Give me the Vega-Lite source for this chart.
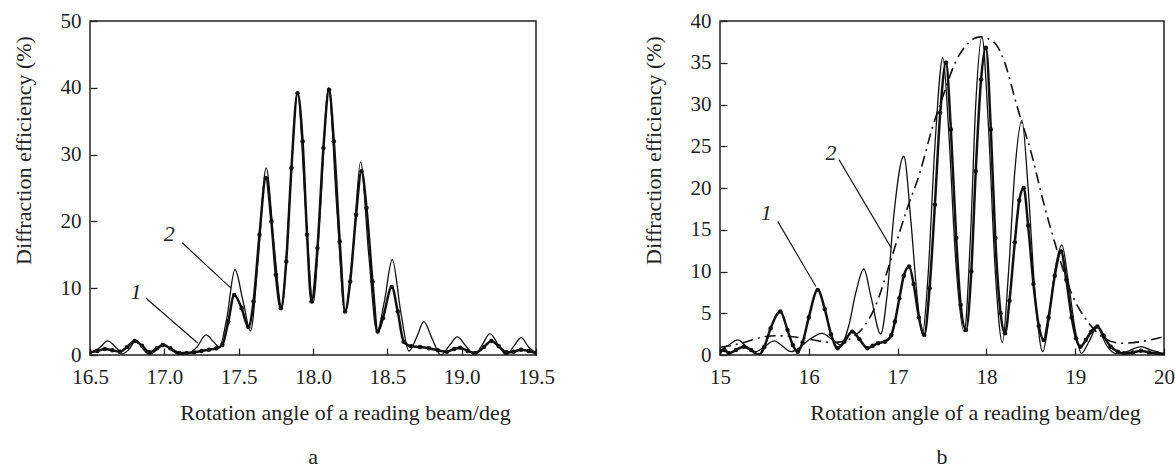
{
  "$schema": "https://vega.github.io/schema/vega-lite/v6.json",
  "background": "white",
  "padding": {"left": 11, "top": 9, "right": 0, "bottom": 0},
  "bounds": "flush",
  "spacing": 184,
  "config": {
    "view": {"stroke": "#222", "strokeWidth": 1.5},
    "font": "Liberation Serif",
    "axis": {
      "labelFont": "Liberation Serif", "titleFont": "Liberation Serif",
      "labelFontSize": 21, "titleFontSize": 22, "titleFontWeight": "normal",
      "labelColor": "#222", "titleColor": "#222", "tickColor": "#222",
      "tickSize": -7, "tickWidth": 1.3, "domain": false, "grid": false,
      "labelFlush": false, "labelOverlap": false
    },
    "axisX": {"labelPadding": 18},
    "axisY": {"labelPadding": 16},
    "title": {"font": "Liberation Serif", "fontSize": 22, "fontWeight": "normal", "color": "#222"}
  },
  "datasets": {
    "a2": [
      {"x":16.50,"y":0.3},{"x":16.56,"y":1.0},{"x":16.62,"y":2.1},{"x":16.68,"y":1.0},{"x":16.72,"y":0.2},
      {"x":16.76,"y":0.8},{"x":16.81,"y":2.2},{"x":16.86,"y":0.8},{"x":16.90,"y":0.1},{"x":16.95,"y":0.8},
      {"x":17.00,"y":1.6},{"x":17.05,"y":0.7},{"x":17.10,"y":0.1},{"x":17.16,"y":0.2},{"x":17.22,"y":1.2},
      {"x":17.28,"y":3.0},{"x":17.33,"y":2.0},{"x":17.37,"y":1.2},{"x":17.42,"y":5.5},{"x":17.475,"y":12.8},
      {"x":17.53,"y":8.0},{"x":17.58,"y":3.6},{"x":17.63,"y":14.0},{"x":17.685,"y":28.0},{"x":17.74,"y":16.0},
      {"x":17.79,"y":7.0},{"x":17.84,"y":22.0},{"x":17.896,"y":39.4},{"x":17.95,"y":22.0},{"x":18.00,"y":7.8},
      {"x":18.05,"y":22.0},{"x":18.104,"y":40.0},{"x":18.16,"y":22.0},{"x":18.215,"y":6.5},{"x":18.27,"y":16.0},
      {"x":18.32,"y":28.9},{"x":18.375,"y":15.0},{"x":18.43,"y":3.5},{"x":18.48,"y":8.0},{"x":18.533,"y":14.3},
      {"x":18.59,"y":6.5},{"x":18.645,"y":0.6},{"x":18.70,"y":2.8},{"x":18.745,"y":5.0},{"x":18.80,"y":2.5},
      {"x":18.86,"y":0.0},{"x":18.92,"y":1.5},{"x":18.97,"y":2.7},{"x":19.03,"y":1.3},{"x":19.085,"y":0.0},
      {"x":19.14,"y":1.6},{"x":19.19,"y":3.2},{"x":19.245,"y":1.6},{"x":19.30,"y":0.0},{"x":19.35,"y":1.3},
      {"x":19.40,"y":2.6},{"x":19.45,"y":1.2},{"x":19.50,"y":0.3}
    ],
    "a1": [
      {"x":16.50,"y":0.4},{"x":16.55,"y":0.6},{"x":16.60,"y":0.9},{"x":16.65,"y":0.7},{"x":16.70,"y":0.5},
      {"x":16.75,"y":1.2},{"x":16.80,"y":2.1},{"x":16.85,"y":1.4},{"x":16.90,"y":0.4},{"x":16.95,"y":1.0},
      {"x":16.99,"y":1.5},{"x":17.04,"y":1.0},{"x":17.10,"y":0.3},{"x":17.15,"y":0.3},{"x":17.20,"y":0.4},
      {"x":17.25,"y":0.6},{"x":17.30,"y":0.8},{"x":17.35,"y":1.0},{"x":17.39,"y":1.5},{"x":17.43,"y":5.0},
      {"x":17.47,"y":9.0},{"x":17.52,"y":7.0},{"x":17.565,"y":4.2},{"x":17.60,"y":8.0},{"x":17.64,"y":18.0},
      {"x":17.683,"y":26.5},{"x":17.72,"y":20.0},{"x":17.75,"y":12.0},{"x":17.784,"y":7.0},{"x":17.82,"y":14.0},
      {"x":17.855,"y":28.0},{"x":17.896,"y":39.2},{"x":17.93,"y":32.0},{"x":17.96,"y":18.0},{"x":17.99,"y":8.0},
      {"x":18.03,"y":16.0},{"x":18.07,"y":31.0},{"x":18.108,"y":39.7},{"x":18.14,"y":32.0},{"x":18.18,"y":17.0},
      {"x":18.216,"y":6.5},{"x":18.25,"y":11.0},{"x":18.29,"y":21.0},{"x":18.326,"y":27.5},{"x":18.36,"y":22.0},
      {"x":18.40,"y":11.0},{"x":18.435,"y":3.5},{"x":18.47,"y":5.5},{"x":18.53,"y":10.2},{"x":18.57,"y":6.5},
      {"x":18.61,"y":2.0},{"x":18.66,"y":1.3},{"x":18.72,"y":1.2},{"x":18.78,"y":1.0},{"x":18.84,"y":0.7},
      {"x":18.90,"y":0.5},{"x":18.95,"y":0.9},{"x":18.99,"y":1.1},{"x":19.04,"y":0.6},{"x":19.09,"y":0.3},
      {"x":19.15,"y":1.2},{"x":19.20,"y":2.1},{"x":19.25,"y":1.3},{"x":19.30,"y":0.4},{"x":19.35,"y":0.5},
      {"x":19.40,"y":0.8},{"x":19.45,"y":0.6},{"x":19.50,"y":0.3}
    ],
    "aLabels": [
      {"t":"2","x":17.033,"y":18.1},
      {"t":"1","x":16.81,"y":9.5}
    ],
    "aLeaders": [
      {"x":17.12,"y":16.8,"x2":17.448,"y2":10.0},
      {"x":16.877,"y":8.5,"x2":17.224,"y2":1.8}
    ],
    "b2": [
      {"x":15.00,"y":0.5},{"x":15.10,"y":1.2},{"x":15.20,"y":1.8},{"x":15.30,"y":1.0},{"x":15.40,"y":0.4},
      {"x":15.50,"y":1.0},{"x":15.61,"y":1.7},{"x":15.70,"y":1.1},{"x":15.80,"y":0.4},{"x":15.90,"y":0.9},
      {"x":16.00,"y":1.8},{"x":16.15,"y":2.6},{"x":16.27,"y":1.8},{"x":16.36,"y":1.2},{"x":16.45,"y":3.5},
      {"x":16.53,"y":7.5},{"x":16.62,"y":10.3},{"x":16.70,"y":7.0},{"x":16.81,"y":2.5},{"x":16.88,"y":7.0},
      {"x":16.96,"y":17.0},{"x":17.07,"y":23.8},{"x":17.15,"y":16.0},{"x":17.22,"y":7.0},{"x":17.28,"y":2.5},
      {"x":17.34,"y":9.0},{"x":17.42,"y":25.0},{"x":17.51,"y":35.6},{"x":17.58,"y":26.0},{"x":17.65,"y":12.0},
      {"x":17.75,"y":2.8},{"x":17.82,"y":14.0},{"x":17.88,"y":30.0},{"x":17.95,"y":38.1},{"x":18.02,"y":28.0},
      {"x":18.10,"y":10.0},{"x":18.18,"y":1.5},{"x":18.25,"y":10.0},{"x":18.32,"y":22.0},{"x":18.40,"y":28.1},
      {"x":18.47,"y":20.0},{"x":18.55,"y":7.0},{"x":18.635,"y":0.4},{"x":18.70,"y":4.0},{"x":18.77,"y":10.0},
      {"x":18.85,"y":13.2},{"x":18.92,"y":9.0},{"x":19.00,"y":3.0},{"x":19.07,"y":0.2},{"x":19.15,"y":1.5},
      {"x":19.25,"y":3.3},{"x":19.35,"y":1.2},{"x":19.45,"y":0.2},{"x":19.55,"y":0.3},{"x":19.65,"y":0.7},
      {"x":19.74,"y":1.0},{"x":19.85,"y":0.6},{"x":20.00,"y":0.1}
    ],
    "b1": [
      {"x":15.00,"y":0.4},{"x":15.05,"y":0.6},{"x":15.10,"y":0.2},{"x":15.18,"y":0.6},{"x":15.27,"y":1.0},
      {"x":15.35,"y":0.6},{"x":15.44,"y":0.0},{"x":15.50,"y":1.0},{"x":15.57,"y":3.2},{"x":15.68,"y":5.2},
      {"x":15.76,"y":3.0},{"x":15.82,"y":1.2},{"x":15.875,"y":0.4},{"x":15.93,"y":1.5},{"x":16.00,"y":4.5},
      {"x":16.10,"y":7.8},{"x":16.18,"y":5.5},{"x":16.25,"y":2.5},{"x":16.325,"y":0.8},{"x":16.40,"y":1.6},
      {"x":16.49,"y":2.8},{"x":16.57,"y":1.9},{"x":16.66,"y":0.8},{"x":16.72,"y":1.1},{"x":16.78,"y":1.4},
      {"x":16.86,"y":1.6},{"x":16.93,"y":2.4},{"x":16.97,"y":4.0},{"x":17.02,"y":6.8},{"x":17.07,"y":9.5},
      {"x":17.13,"y":10.6},{"x":17.18,"y":8.5},{"x":17.24,"y":4.5},{"x":17.30,"y":2.4},{"x":17.36,"y":8.0},
      {"x":17.42,"y":18.0},{"x":17.48,"y":29.0},{"x":17.545,"y":35.0},{"x":17.60,"y":27.0},{"x":17.66,"y":14.0},
      {"x":17.71,"y":6.0},{"x":17.77,"y":3.0},{"x":17.83,"y":10.0},{"x":17.88,"y":22.0},{"x":17.94,"y":33.0},
      {"x":17.995,"y":36.8},{"x":18.05,"y":27.0},{"x":18.10,"y":14.0},{"x":18.16,"y":5.0},{"x":18.21,"y":2.6},
      {"x":18.26,"y":6.5},{"x":18.32,"y":13.5},{"x":18.37,"y":18.5},{"x":18.42,"y":20.0},{"x":18.47,"y":15.5},
      {"x":18.53,"y":8.5},{"x":18.59,"y":3.5},{"x":18.645,"y":1.8},{"x":18.70,"y":4.5},{"x":18.77,"y":9.5},
      {"x":18.84,"y":12.4},{"x":18.90,"y":9.0},{"x":18.96,"y":4.5},{"x":19.01,"y":2.0},{"x":19.06,"y":1.0},
      {"x":19.12,"y":1.8},{"x":19.18,"y":2.8},{"x":19.25,"y":3.4},{"x":19.32,"y":2.3},{"x":19.40,"y":1.0},
      {"x":19.48,"y":0.4},{"x":19.55,"y":0.2},{"x":19.65,"y":0.3},{"x":19.74,"y":0.5},{"x":19.83,"y":0.3},
      {"x":19.92,"y":0.2},{"x":20.00,"y":0.1}
    ],
    "b3": [
      {"x":15.00,"y":0.9},{"x":15.15,"y":1.2},{"x":15.27,"y":1.5},{"x":15.42,"y":2.0},{"x":15.65,"y":2.3},
      {"x":15.95,"y":2.0},{"x":16.10,"y":1.7},{"x":16.25,"y":1.5},{"x":16.40,"y":1.6},{"x":16.50,"y":2.2},
      {"x":16.59,"y":3.0},{"x":16.74,"y":5.6},{"x":16.93,"y":11.6},{"x":17.11,"y":17.6},{"x":17.25,"y":21.8},
      {"x":17.38,"y":26.8},{"x":17.53,"y":31.6},{"x":17.64,"y":34.8},{"x":17.75,"y":36.8},{"x":17.86,"y":37.9},
      {"x":17.93,"y":38.1},{"x":18.09,"y":37.4},{"x":18.20,"y":35.2},{"x":18.35,"y":29.6},{"x":18.50,"y":24.4},
      {"x":18.65,"y":18.0},{"x":18.80,"y":12.4},{"x":18.95,"y":7.6},{"x":19.14,"y":4.0},{"x":19.33,"y":2.0},
      {"x":19.52,"y":1.4},{"x":19.74,"y":1.6},{"x":20.00,"y":2.2}
    ],
    "bLabels": [
      {"t":"1","x":15.52,"y":17.0},
      {"t":"2","x":16.25,"y":24.2}
    ],
    "bLeaders": [
      {"x":15.65,"y":16.0,"x2":16.08,"y2":8.2},
      {"x":16.34,"y":23.4,"x2":16.93,"y2":12.8}
    ]
  },
  "hconcat": [
    {
      "width": 446, "height": 334,
      "title": {"text": "a", "orient": "bottom", "anchor": "middle", "frame": "group", "offset": 24},
      "encoding": {
        "x": {"field": "x", "type": "quantitative",
              "scale": {"domain": [16.5, 19.5], "nice": false, "zero": false},
              "axis": {"values": [16.5, 17.0, 17.5, 18.0, 18.5, 19.0, 19.5], "format": ".1f",
                       "title": "Rotation angle of a reading beam/deg", "titleX": 255, "titleY": 64,
                       "titleBaseline": "alphabetic", "titleAnchor": "middle"}},
        "y": {"field": "y", "type": "quantitative",
              "scale": {"domain": [0, 50], "nice": false},
              "axis": {"values": [0, 10, 20, 30, 40, 50],
                       "title": "Diffraction efficiency (%)", "titleX": -67, "titleY": 129,
                       "titleBaseline": "middle", "titleAnchor": "middle"}}
      },
      "layer": [
        {"data": {"name": "a1"}, "mark": {"type": "line", "interpolate": "monotone", "stroke": "#111", "strokeWidth": 2.5, "clip": true,
          "point": {"filled": true, "size": 20, "color": "#111"}}},
        {"data": {"name": "a2"}, "mark": {"type": "line", "interpolate": "monotone", "stroke": "#111", "strokeWidth": 1.3, "clip": true}},
        {"data": {"name": "aLeaders"}, "mark": {"type": "rule", "stroke": "#111", "strokeWidth": 1.1},
          "encoding": {"x2": {"field": "x2"}, "y2": {"field": "y2"}}},
        {"data": {"name": "aLabels"}, "mark": {"type": "text", "fontStyle": "italic", "fontSize": 22, "font": "Liberation Serif", "color": "#222", "align": "center", "baseline": "middle"},
          "encoding": {"text": {"field": "t"}}}
      ]
    },
    {
      "width": 444, "height": 334,
      "title": {"text": "b", "orient": "bottom", "anchor": "middle", "frame": "group", "offset": 24},
      "encoding": {
        "x": {"field": "x", "type": "quantitative",
              "scale": {"domain": [15, 20], "nice": false, "zero": false},
              "axis": {"values": [15, 16, 17, 18, 19, 20], "format": "d",
                       "title": "Rotation angle of a reading beam/deg", "titleX": 255, "titleY": 64,
                       "titleBaseline": "alphabetic", "titleAnchor": "middle"}},
        "y": {"field": "y", "type": "quantitative",
              "scale": {"domain": [0, 40], "nice": false},
              "axis": {"values": [0, 5, 10, 15, 20, 25, 30, 35, 40],
                       "title": "Diffraction efficiency (%)", "titleX": -67, "titleY": 129,
                       "titleBaseline": "middle", "titleAnchor": "middle"}}
      },
      "layer": [
        {"data": {"name": "b3"}, "mark": {"type": "line", "interpolate": "monotone", "stroke": "#111", "strokeWidth": 1.6, "strokeDash": [11, 5, 2, 5], "clip": true}},
        {"data": {"name": "b1"}, "mark": {"type": "line", "interpolate": "monotone", "stroke": "#111", "strokeWidth": 2.5, "clip": true,
          "point": {"filled": true, "size": 20, "color": "#111"}}},
        {"data": {"name": "b2"}, "mark": {"type": "line", "interpolate": "monotone", "stroke": "#111", "strokeWidth": 1.3, "clip": true}},
        {"data": {"name": "bLeaders"}, "mark": {"type": "rule", "stroke": "#111", "strokeWidth": 1.1},
          "encoding": {"x2": {"field": "x2"}, "y2": {"field": "y2"}}},
        {"data": {"name": "bLabels"}, "mark": {"type": "text", "fontStyle": "italic", "fontSize": 22, "font": "Liberation Serif", "color": "#222", "align": "center", "baseline": "middle"},
          "encoding": {"text": {"field": "t"}}}
      ]
    }
  ]
}
